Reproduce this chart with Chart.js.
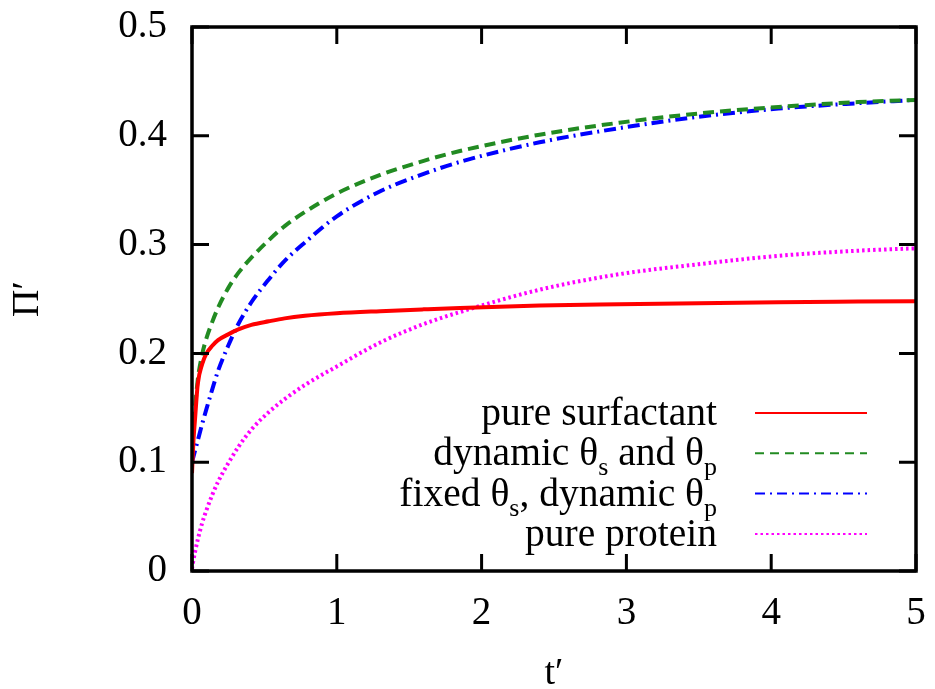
<!DOCTYPE html>
<html>
<head>
<meta charset="utf-8">
<script src="https://cdn.jsdelivr.net/npm/chart.js@4.4.0/dist/chart.umd.min.js"></script>
<style>
    html, body { margin: 0; padding: 0; background: #fff; }
    #wrap { width: 935px; height: 689px; }
</style>
</head>
<body>
<div id="wrap"><canvas id="chartLine"></canvas></div>
<script>
// values
var tValues        = [0, 0.01, 0.02, 0.04, 0.07, 0.1, 0.14, 0.18, 0.25, 0.32, 0.41, 0.53, 0.64, 0.78, 1.0, 1.3, 1.6, 1.85, 2.4, 2.95, 3.5, 4.05, 4.6, 5.0];
var pureSurfactant = [0.09, 0.12, 0.138, 0.172, 0.19, 0.2, 0.207, 0.2122, 0.2175, 0.222, 0.2262, 0.2295, 0.2322, 0.2345, 0.2368, 0.2388, 0.2405, 0.2418, 0.244, 0.2452, 0.2462, 0.247, 0.2476, 0.248];
var dynamicBoth    = [0.105, 0.13, 0.148, 0.176, 0.199, 0.214, 0.229, 0.242, 0.26, 0.274, 0.288, 0.304, 0.317, 0.33, 0.347, 0.364, 0.377, 0.386, 0.401, 0.412, 0.4205, 0.4265, 0.431, 0.433];
var fixedThetaS    = [0.1, 0.105, 0.11, 0.12, 0.135, 0.149, 0.167, 0.184, 0.207, 0.227, 0.247, 0.268, 0.285, 0.302, 0.326, 0.349, 0.365, 0.376, 0.394, 0.407, 0.4175, 0.425, 0.43, 0.433];
var pureProtein    = [0.002, 0.01, 0.017, 0.029, 0.044, 0.056, 0.07, 0.082, 0.099, 0.114, 0.13, 0.146, 0.158, 0.171, 0.188, 0.21, 0.227, 0.238, 0.2585, 0.2728, 0.282, 0.2897, 0.2944, 0.2966];

var xTicks = [0, 1, 2, 3, 4, 5];
var yTicks = [0, 0.1, 0.2, 0.3, 0.4, 0.5];

// "_x" = subscript character
var seriesLabels = ['pure surfactant', 'dynamic θ_s and θ_p', 'fixed θ_s, dynamic θ_p', 'pure protein'];

var serif = "'Liberation Serif', 'DejaVu Serif', serif";

function points(arr) {
    return tValues.map(function (t, i) { return { x: t, y: arr[i] }; });
}

var frame = {
    id: 'frame',
    afterDatasetsDraw: function (chart) {
        var ctx = chart.ctx, a = chart.chartArea;
        var xs = chart.scales.x, ys = chart.scales.y;
        ctx.save();
        ctx.strokeStyle = 'black';
        ctx.lineWidth = 3;
        ctx.beginPath();
        xs.ticks.forEach(function (t) {
            var px = xs.getPixelForValue(t.value);
            ctx.moveTo(px, a.bottom); ctx.lineTo(px, a.bottom - 17);
            ctx.moveTo(px, a.top); ctx.lineTo(px, a.top + 17);
        });
        ys.ticks.forEach(function (t) {
            var py = ys.getPixelForValue(t.value);
            ctx.moveTo(a.left, py); ctx.lineTo(a.left + 17, py);
            ctx.moveTo(a.right, py); ctx.lineTo(a.right - 17, py);
        });
        ctx.stroke();
        ctx.lineWidth = 3.5;
        ctx.strokeRect(a.left, a.top, a.right - a.left, a.bottom - a.top);
        ctx.restore();
    }
};

function splitLabel(s) {
    var parts = [], buf = '';
    for (var i = 0; i < s.length; i++) {
        if (s[i] === '_') {
            if (buf) parts.push({ t: buf, sub: false });
            buf = '';
            parts.push({ t: s[i + 1], sub: true });
            i++;
        } else {
            buf += s[i];
        }
    }
    if (buf) parts.push({ t: buf, sub: false });
    return parts;
}

var keyBox = {
    id: 'keyBox',
    afterDraw: function (chart) {
        var ctx = chart.ctx, a = chart.chartArea;
        var textRight = a.right - 199;
        var lineFrom = a.right - 161, lineTo = a.right - 49;
        ctx.save();
        ctx.fillStyle = 'black';
        ctx.textBaseline = 'alphabetic';
        ctx.textAlign = 'left';
        chart.data.datasets.forEach(function (ds, i) {
            var y = a.top + 386 + i * 40.3;
            var parts = splitLabel(ds.label);
            var total = 0;
            parts.forEach(function (p) {
                ctx.font = (p.sub ? 26 : 39.5) + 'px ' + serif;
                p.w = ctx.measureText(p.t).width;
                total += p.w;
            });
            var x = textRight - total;
            parts.forEach(function (p) {
                ctx.font = (p.sub ? 26 : 39.5) + 'px ' + serif;
                ctx.fillText(p.t, x, y + 12 + (p.sub ? 10 : 0));
                x += p.w;
            });
            ctx.strokeStyle = ds.borderColor;
            ctx.lineWidth = 2;
            ctx.setLineDash(ds.keyDash);
            ctx.beginPath();
            ctx.moveTo(lineFrom, y);
            ctx.lineTo(lineTo, y);
            ctx.stroke();
        });
        ctx.restore();
    }
};

new Chart(document.getElementById('chartLine'), {
    type: 'line',
    data: {
        datasets: [
            {
                label: seriesLabels[0],
                data: points(pureSurfactant),
                borderColor: '#ff0000',
                borderWidth: 4,
                borderDash: [],
                keyDash: []
            },
            {
                label: seriesLabels[1],
                data: points(dynamicBoth),
                borderColor: '#228b22',
                borderWidth: 4,
                borderDash: [11, 6],
                keyDash: [9, 6]
            },
            {
                label: seriesLabels[2],
                data: points(fixedThetaS),
                borderColor: '#0000ff',
                borderWidth: 4,
                borderDash: [12, 5, 2, 5],
                keyDash: [10, 5, 2, 5]
            },
            {
                label: seriesLabels[3],
                data: points(pureProtein),
                borderColor: '#ff00ff',
                borderWidth: 4,
                borderDash: [2.5, 3],
                keyDash: [2.5, 3]
            }
        ]
    },
    options: {
        responsive: true,
        maintainAspectRatio: false,
        animation: false,
        layout: { padding: { top: 27, right: 19, left: 0, bottom: 0 } },
        elements: {
            point: { radius: 0 },
            line: { cubicInterpolationMode: 'monotone', borderCapStyle: 'butt', fill: false }
        },
        plugins: {
            legend: { display: false },
            tooltip: { enabled: false }
        },
        scales: {
            x: {
                type: 'linear',
                min: 0,
                max: 5,
                afterFit: function (s) { s.height = 118; s.paddingLeft = 0; s.paddingRight = 0; },
                afterBuildTicks: function (s) { s.ticks = xTicks.map(function (v) { return { value: v }; }); },
                grid: { display: false },
                border: { display: false },
                ticks: {
                    color: 'black',
                    padding: 11,
                    maxRotation: 0,
                    font: { family: serif, size: 39 },
                    callback: function (v) { return String(v); }
                },
                title: {
                    display: true,
                    text: 't′',
                    color: 'black',
                    padding: 0,
                    font: { family: serif, size: 38, lineHeight: 0.8 }
                }
            },
            y: {
                type: 'linear',
                min: 0,
                max: 0.5,
                afterFit: function (s) { s.width = 192; s.paddingTop = 0; s.paddingBottom = 0; },
                afterBuildTicks: function (s) { s.ticks = yTicks.map(function (v) { return { value: v }; }); },
                grid: { display: false },
                border: { display: false },
                ticks: {
                    color: 'black',
                    padding: 17,
                    font: { family: serif, size: 39 },
                    callback: function (v) { return v === 0 ? '0' : v.toFixed(1); }
                },
                title: {
                    display: true,
                    text: 'Π′',
                    color: 'black',
                    padding: { top: 9, bottom: 0 },
                    font: { family: serif, size: 38, lineHeight: 1 }
                }
            }
        }
    },
    plugins: [frame, keyBox]
});
</script>
</body>
</html>
